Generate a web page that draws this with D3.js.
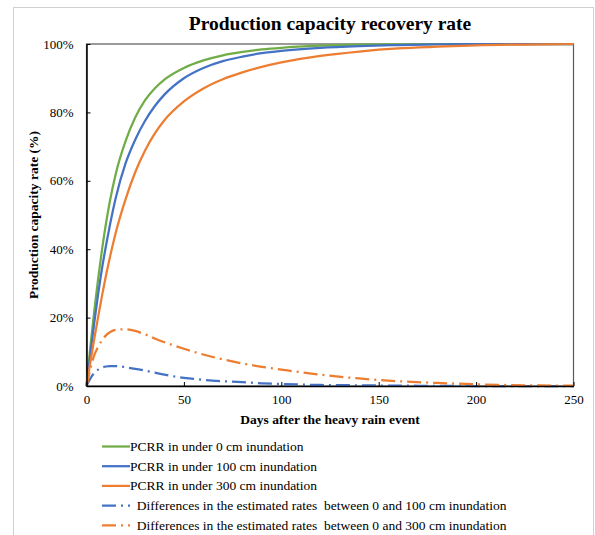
<!DOCTYPE html>
<html>
<head>
<meta charset="utf-8">
<script src="https://cdn.jsdelivr.net/npm/d3@7"></script>
<style>
  body { margin: 0; background: #fff; }
  svg text { font-family: "Liberation Serif", "Times New Roman", serif; fill: #000; }
</style>
</head>
<body>
<div id="chart"></div>
<script>
// Days after the event (x values shared by every series)
var days = [0, 2, 4, 6, 8, 10, 12, 15, 20, 25, 30, 35, 40, 50, 60, 70, 80, 90, 100, 120, 140, 160, 180, 200, 225, 250];

// Recovery rates (%)
var pcrr0 = [0, 11.5, 22, 31.5, 40, 47.5, 54, 62, 71.5, 78.5, 83.5, 87, 89.6, 93, 95.2, 96.7, 97.7, 98.4, 98.9, 99.5, 99.8, 99.9, 100, 100, 100, 100];
var pcrr100 = [0, 9.5, 18.5, 27, 34.5, 41, 47, 55, 65, 72, 77.5, 81.8, 85.2, 90, 93, 95, 96.3, 97.3, 98, 98.9, 99.4, 99.7, 99.9, 100, 100, 100];
var pcrr300 = [0, 7, 13.8, 20.3, 26.5, 32.3, 37.6, 44.8, 54.5, 62.5, 68.8, 73.8, 77.7, 83.2, 87, 89.7, 91.7, 93.3, 94.6, 96.5, 97.8, 98.7, 99.2, 99.6, 99.85, 100];
var diff100 = [0, 2.2, 3.8, 4.8, 5.4, 5.7, 5.8, 5.8, 5.5, 5, 4.5, 3.9, 3.3, 2.4, 1.8, 1.4, 1.1, 0.8, 0.6, 0.3, 0.2, 0.1, 0.05, 0, 0, 0];
var diff300 = [0, 5, 9, 11.5, 13.4, 14.8, 15.7, 16.4, 16.6, 16.1, 15.1, 13.9, 12.8, 10.9, 9.2, 7.8, 6.6, 5.6, 4.8, 3.3, 2.2, 1.4, 0.9, 0.5, 0.2, 0.1];

var xTicks = [0, 50, 100, 150, 200, 250];
var yTicks = [0, 20, 40, 60, 80, 100];

var seriesNames = [
  "PCRR in under 0 cm inundation",
  "PCRR in under 100 cm inundation",
  "PCRR in under 300 cm inundation",
  "  Differences in the estimated rates  between 0 and 100 cm inundation",
  "  Differences in the estimated rates  between 0 and 300 cm inundation"
];
var seriesValues = [pcrr0, pcrr100, pcrr300, diff100, diff300];
var seriesColors = ["#70AD47", "#4472C4", "#ED7D31", "#4472C4", "#ED7D31"];
var seriesDashed = [false, false, false, true, true];

// Layout
var W = 595, H = 535;
var plot = { left: 86.5, right: 573.5, top: 44, bottom: 386 };

var svg = d3.select("#chart").append("svg")
    .attr("width", W)
    .attr("height", H);

// Outer chart border
svg.append("rect")
    .attr("x", 13.5).attr("y", 7.5)
    .attr("width", 580).attr("height", 540)
    .attr("fill", "none")
    .attr("stroke", "#d0d0d0")
    .attr("stroke-width", 1);

var x = d3.scaleLinear().domain([0, 250]).range([plot.left, plot.right]);
var y = d3.scaleLinear().domain([0, 100]).range([plot.bottom, plot.top]);

// Plot area frame
svg.append("rect")
    .attr("x", plot.left).attr("y", plot.top)
    .attr("width", plot.right - plot.left)
    .attr("height", plot.bottom - plot.top)
    .attr("fill", "none")
    .attr("stroke", "#595959")
    .attr("stroke-width", 1.2);

// Title
svg.append("text")
    .attr("x", (plot.left + plot.right) / 2)
    .attr("y", 30)
    .attr("text-anchor", "middle")
    .style("font-size", "19.5px")
    .style("font-weight", "bold")
    .text("Production capacity recovery rate");

// Series lines
var line = d3.line()
    .x(function(d) { return x(d[0]); })
    .y(function(d) { return y(d[1]); })
    .curve(d3.curveMonotoneX);

seriesValues.forEach(function(vals, i) {
  var pts = days.map(function(d, j) { return [d, vals[j]]; });
  svg.append("path")
      .datum(pts)
      .attr("d", line)
      .attr("fill", "none")
      .attr("stroke", seriesColors[i])
      .attr("stroke-width", 2.25)
      .attr("stroke-dasharray", seriesDashed[i] ? "14,5,2,5" : null);
});

// Axes (ticks point inward)
var xAxis = svg.append("g")
    .attr("transform", "translate(0," + plot.bottom + ")")
    .call(d3.axisBottom(x).tickValues(xTicks).tickSizeInner(-4).tickSizeOuter(0).tickPadding(9));
var yAxis = svg.append("g")
    .attr("transform", "translate(" + plot.left + ",0)")
    .call(d3.axisLeft(y).tickValues(yTicks).tickSizeInner(-4).tickSizeOuter(0).tickPadding(13)
      .tickFormat(function(d) { return d + "%"; }));

[xAxis, yAxis].forEach(function(ax) {
  ax.select(".domain").attr("stroke", "#000").attr("stroke-width", 1.5);
  ax.selectAll(".tick line").attr("stroke", "#000");
  ax.selectAll(".tick text")
      .style("font-family", "'Liberation Serif', 'Times New Roman', serif")
      .style("font-size", "13px");
});

// Axis titles
svg.append("text")
    .attr("x", (plot.left + plot.right) / 2)
    .attr("y", 424)
    .attr("text-anchor", "middle")
    .style("font-size", "13.5px")
    .style("font-weight", "bold")
    .text("Days after the heavy rain event");

svg.append("text")
    .attr("transform", "translate(38," + ((plot.top + plot.bottom) / 2) + ") rotate(-90)")
    .attr("text-anchor", "middle")
    .style("font-size", "13.5px")
    .style("font-weight", "bold")
    .text("Production capacity rate (%)");

// Legend
var legend = svg.append("g");
seriesNames.forEach(function(name, i) {
  var ly = 446.5 + i * 19.7;
  legend.append("line")
      .attr("x1", 102).attr("x2", 130)
      .attr("y1", ly).attr("y2", ly)
      .attr("stroke", seriesColors[i])
      .attr("stroke-width", 2.25)
      .attr("stroke-dasharray", seriesDashed[i] ? "14,5,2,5" : null);
  legend.append("text")
      .attr("x", 130)
      .attr("y", ly + 4.5)
      .attr("xml:space", "preserve")
      .style("white-space", "pre")
      .style("font-size", "13.5px")
      .text(name);
});
</script>
</body>
</html>
